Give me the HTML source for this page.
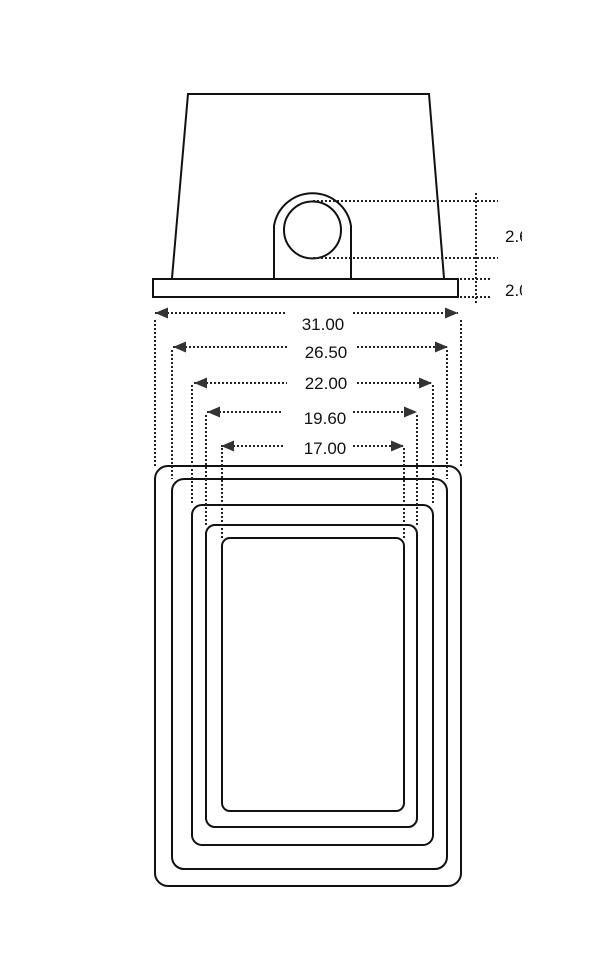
<!DOCTYPE html>
<html><head><meta charset="utf-8"><style>
html,body{margin:0;padding:0;background:#fff;width:600px;height:963px;overflow:hidden}
svg{display:block}
text{font-family:"Liberation Sans",sans-serif;font-size:17px;fill:#111}
</style></head><body>
<svg width="600" height="963" viewBox="0 0 600 963" xmlns="http://www.w3.org/2000/svg">
<defs>
<clipPath id="c"><rect x="0" y="0" width="522" height="963"/></clipPath>
<marker id="al" markerWidth="13" markerHeight="11" refX="0" refY="5.5" orient="auto" markerUnits="userSpaceOnUse"><path d="M0,5.5 L13,0 L13,11 Z" fill="#333"/></marker>
<marker id="ar" markerWidth="13" markerHeight="11" refX="13" refY="5.5" orient="auto" markerUnits="userSpaceOnUse"><path d="M13,5.5 L0,0 L0,11 Z" fill="#333"/></marker>
</defs>
<g fill="none" stroke="#111" stroke-width="2">
<path d="M172,278 L188,94 L429,94 L444,278"/>
<rect x="153" y="279" width="305" height="18"/>
<path d="M274,278 L274,226 A39,39 0 0 1 351,226 L351,278"/>
<circle cx="312.5" cy="230" r="28.5"/>
<rect x="155" y="466" width="306" height="420" rx="13"/>
<rect x="172" y="479" width="275" height="390" rx="12"/>
<rect x="192" y="505" width="241" height="340" rx="10"/>
<rect x="206" y="525" width="211" height="302" rx="9"/>
<rect x="222" y="538" width="182" height="273" rx="8"/>
</g>
<g fill="none" stroke="#222" stroke-width="2" stroke-dasharray="2 2">
<line x1="313" y1="201" x2="498" y2="201"/>
<line x1="313" y1="258" x2="498" y2="258"/>
<line x1="460" y1="279" x2="492" y2="279"/>
<line x1="460" y1="297" x2="492" y2="297"/>
<line x1="476" y1="193" x2="476" y2="305"/>
<line x1="155" y1="320" x2="155" y2="466"/>
<line x1="461" y1="320" x2="461" y2="466"/>
<line x1="172" y1="350" x2="172" y2="479"/>
<line x1="447" y1="350" x2="447" y2="479"/>
<line x1="192" y1="385" x2="192" y2="505"/>
<line x1="433" y1="385" x2="433" y2="505"/>
<line x1="206" y1="415" x2="206" y2="525"/>
<line x1="417" y1="415" x2="417" y2="525"/>
<line x1="222" y1="448" x2="222" y2="538"/>
<line x1="404" y1="448" x2="404" y2="538"/>
<line x1="155" y1="313" x2="287" y2="313" marker-start="url(#al)"/>
<line x1="353" y1="313" x2="458" y2="313" marker-end="url(#ar)"/>
<line x1="173" y1="347" x2="287" y2="347" marker-start="url(#al)"/>
<line x1="357" y1="347" x2="448" y2="347" marker-end="url(#ar)"/>
<line x1="194" y1="383" x2="287" y2="383" marker-start="url(#al)"/>
<line x1="357" y1="383" x2="432" y2="383" marker-end="url(#ar)"/>
<line x1="207" y1="412" x2="283" y2="412" marker-start="url(#al)"/>
<line x1="353" y1="412" x2="417" y2="412" marker-end="url(#ar)"/>
<line x1="221" y1="446" x2="283" y2="446" marker-start="url(#al)"/>
<line x1="353" y1="446" x2="404" y2="446" marker-end="url(#ar)"/>
</g>
<g text-anchor="middle">
<text x="323" y="330">31.00</text>
<text x="326" y="358">26.50</text>
<text x="326" y="389">22.00</text>
<text x="325" y="424">19.60</text>
<text x="325" y="454">17.00</text>
</g>
<g clip-path="url(#c)">
<text x="505" y="242">2.60</text>
<text x="505" y="296">2.00</text>
</g>
</svg>
</body></html>
